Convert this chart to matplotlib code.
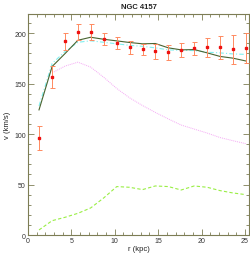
import matplotlib
matplotlib.use("Agg")
import matplotlib.pyplot as plt
import numpy as np
from matplotlib.ticker import MultipleLocator

r = [1.27, 2.78, 4.29, 5.75, 7.22, 8.72, 10.23, 11.70, 13.20, 14.67,
     16.18, 17.65, 19.15, 20.66, 22.13, 23.60, 25.10]
v_obs = [96, 157, 192, 201, 201, 194, 190, 186, 184, 182,
         181, 183.5, 185, 186, 186, 184, 185]
v_err = [12, 11, 8.5, 8, 8, 6, 6, 6.3, 5.8, 7.1,
         7.3, 7.1, 6.6, 9.6, 11.6, 14.4, 15]
v_total = [124, 167, 180, 193, 196, 194, 192.4, 190.8, 189.5, 189.8,
           185.5, 183.5, 183.8, 180.5, 177, 175.3, 172.5]
v_cyan = [128, 170, 182, 191, 192.5, 191, 189.5, 188, 187, 185.5,
          183.5, 183, 182.8, 181.2, 180.5, 179.5, 179]
v_disk = [np.nan, 160.7, 167.5, 171.3, 166.4, 156.4, 145.2, 136, 128.3, 121.5,
          115, 109, 105, 101, 96.6, 93.5, 90.5]
v_gas = [5, 14.2, 17.6, 21.5, 26.8, 36.7, 48, 47.3, 45, 48.6,
         48, 44.6, 48.6, 47.3, 44, 41.7, 40]

plt.rcParams['font.family'] = ['Liberation Sans', 'DejaVu Sans']
fig = plt.figure(figsize=(2.5, 2.55), dpi=100)
ax = fig.add_axes([0.112, 0.0745, 0.885, 0.8665])

ax.plot(r, v_gas, color='#99ee44', lw=0.8, ls=(0, (3, 2)))
ax.plot(r, v_disk, color='#f4a8f4', lw=0.7, ls=(0, (1, 1)))
ax.plot(r, v_cyan, color='#80f0f0', lw=0.8, ls=(0, (4, 2, 1, 2)))
ax.plot(r, v_total, color='#4a6430', lw=0.8)
ax.errorbar(r, v_obs, yerr=v_err, fmt='s', color='#ee1111', ms=1.6,
            ecolor='#ff8a60', elinewidth=0.7, capsize=1.8, capthick=0.7, zorder=5)

ax.set_xlim(0, 25.5)
ax.set_ylim(0, 219)
ax.xaxis.set_major_locator(MultipleLocator(5))
ax.xaxis.set_minor_locator(MultipleLocator(1))
ax.yaxis.set_major_locator(MultipleLocator(50))
ax.yaxis.set_minor_locator(MultipleLocator(10))
frame = '#7d7d55'
for s in ax.spines.values():
    s.set_color(frame)
    s.set_linewidth(0.8)
ax.tick_params(which='both', direction='in', top=True, right=True,
               colors=frame, labelsize=5, labelcolor='#333333', pad=1.5)
ax.tick_params(which='major', length=4, width=0.6)
ax.tick_params(which='minor', length=2, width=0.6)

ax.set_title('NGC 4157', fontsize=5.5, color='#222222', pad=4, fontweight='bold')
ax.set_xlabel('r (kpc)', fontsize=5.5, color='#222222', labelpad=0.5)
ax.set_ylabel('v (km/s)', fontsize=5.5, color='#222222', labelpad=2)

fig.savefig('out.png', dpi=100)
